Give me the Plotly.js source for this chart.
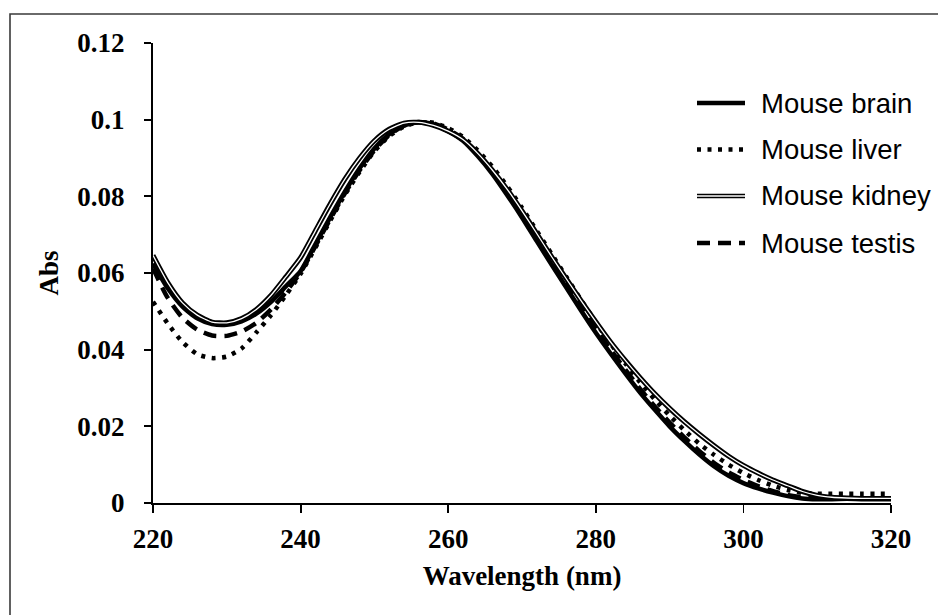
<!DOCTYPE html>
<html>
<head>
<meta charset="utf-8">
<script src="https://cdn.plot.ly/plotly-3.0.1.min.js"></script>
<style>
  html, body { margin: 0; padding: 0; background: #ffffff; }
  #chart { width: 938px; height: 615px; }
</style>
</head>
<body>
<div id="chart"></div>
<script>
// Wavelength (nm)
const wavelength = [220,222,224,226,228,230,232,234,236,238,240,242,244,246,248,250,252,254,256,258,260,262,264,266,268,270,272,274,276,278,280,282,284,286,288,290,292,294,296,298,300,302,304,306,308,310,312,314,316,318,320];

const mouseBrain = [0.0625,0.0560,0.0512,0.0482,0.0467,0.0465,0.0474,0.0494,0.0525,0.0565,0.0605,0.0675,0.0745,0.0812,0.0873,0.0925,0.0962,0.0985,0.0993,0.0988,0.0970,0.0945,0.0905,0.0858,0.0803,0.0745,0.0683,0.0622,0.0562,0.0502,0.0444,0.0390,0.0338,0.0288,0.0243,0.0200,0.0162,0.0127,0.0096,0.0071,0.0052,0.0038,0.0027,0.0018,0.0012,0.0010,0.0010,0.0011,0.0010,0.0010,0.0010];

const mouseLiver = [0.0525,0.0468,0.0420,0.0388,0.0378,0.0382,0.0403,0.0445,0.0490,0.0542,0.0598,0.0666,0.0736,0.0804,0.0864,0.0918,0.0957,0.0982,0.0993,0.0992,0.0978,0.0955,0.0920,0.0877,0.0826,0.0770,0.0710,0.0650,0.0590,0.0530,0.0472,0.0416,0.0364,0.0315,0.0270,0.0228,0.0190,0.0155,0.0126,0.0100,0.0078,0.0060,0.0045,0.0034,0.0027,0.0024,0.0024,0.0024,0.0024,0.0024,0.0024];

const mouseKidney = [0.0646,0.0575,0.0522,0.0490,0.0472,0.0470,0.0481,0.0505,0.0542,0.0590,0.0640,0.0710,0.0780,0.0845,0.0900,0.0945,0.0975,0.0991,0.0993,0.0985,0.0970,0.0948,0.0912,0.0868,0.0818,0.0762,0.0703,0.0643,0.0585,0.0528,0.0473,0.0420,0.0372,0.0327,0.0285,0.0247,0.0212,0.0180,0.0150,0.0122,0.0098,0.0078,0.0060,0.0045,0.0030,0.0020,0.0015,0.0013,0.0012,0.0012,0.0012];

const mouseTestis = [0.0612,0.0535,0.0483,0.0452,0.0437,0.0436,0.0447,0.0470,0.0505,0.0550,0.0602,0.0670,0.0740,0.0808,0.0868,0.0920,0.0960,0.0984,0.0994,0.0990,0.0974,0.0950,0.0912,0.0866,0.0812,0.0754,0.0693,0.0632,0.0572,0.0512,0.0455,0.0400,0.0348,0.0298,0.0252,0.0210,0.0171,0.0136,0.0105,0.0080,0.0060,0.0044,0.0031,0.0021,0.0015,0.0012,0.0012,0.0012,0.0012,0.0012,0.0012];

const seriesNames = ["Mouse brain", "Mouse liver", "Mouse kidney", "Mouse testis"];
const xTicks = [220, 240, 260, 280, 300, 320];
const yTicks = [0, 0.02, 0.04, 0.06, 0.08, 0.1, 0.12];
const yTickText = ["0", "0.02", "0.04", "0.06", "0.08", "0.1", "0.12"];

const serif = "Liberation Serif, Times New Roman, serif";
const sans = "Liberation Sans, Arial, sans-serif";

const lineStyles = {
  brain:  {color: "#000", width: 4.5},
  liver:  {color: "#000", width: 4.5, dash: "4px,6.5px"},
  kidneyOuter: {color: "#000", width: 5},
  kidneyInner: {color: "#fff", width: 1.3},
  testis: {color: "#000", width: 4.5, dash: "13px,8px"}
};

function trace(y, name, line) {
  return {x: wavelength, y: y, name: name, type: "scatter", mode: "lines",
          line: Object.assign({shape: "spline", smoothing: 0.6}, line),
          showlegend: false, hoverinfo: "skip"};
}

const data = [
  trace(mouseBrain, seriesNames[0], lineStyles.brain),
  trace(mouseTestis, seriesNames[3], lineStyles.testis),
  trace(mouseLiver, seriesNames[1], lineStyles.liver),
  trace(mouseKidney, seriesNames[2], lineStyles.kidneyOuter),
  trace(mouseKidney, seriesNames[2], lineStyles.kidneyInner)
];

// Layout geometry
const M = {l: 153, r: 47, t: 43, b: 112};
const W = 938, H = 615;
const pw = W - M.l - M.r, ph = H - M.t - M.b;
const px2x = p => (p - M.l) / pw;
const px2y = p => (H - M.b - p) / ph;

// Custom legend (drawn in paper space)
const legRows = [103, 149.5, 196, 243];
const legX0 = px2x(697), legX1 = px2x(745), legTextX = px2x(759);
const legendStyles = [
  [lineStyles.brain],
  [lineStyles.liver],
  [{color: "#000", width: 4.6}, {color: "#fff", width: 1.4}],
  [lineStyles.testis]
];

const shapes = [
  {type: "rect", xref: "paper", yref: "paper",
   x0: px2x(10), x1: px2x(948), y0: px2y(628), y1: px2y(14),
   line: {color: "#3a3a3a", width: 1.6}, fillcolor: "rgba(0,0,0,0)", layer: "below"}
];
const annotations = [];
legRows.forEach((py, i) => {
  legendStyles[i].forEach(st => {
    shapes.push({type: "line", xref: "paper", yref: "paper",
      x0: legX0, x1: legX1, y0: px2y(py), y1: px2y(py),
      line: {color: st.color, width: st.width, dash: st.dash || "solid"}});
  });
  annotations.push({xref: "paper", yref: "paper", x: legTextX, y: px2y(py),
    xanchor: "left", yanchor: "middle", showarrow: false, text: seriesNames[i],
    font: {family: sans, size: 27.5, color: "#000"}});
});

const tickFont = {family: serif, size: 27, color: "#000", weight: "bold"};
const titleFont = {family: serif, size: 27, color: "#000", weight: "bold"};

const layout = {
  width: W, height: H,
  margin: M,
  paper_bgcolor: "#fff", plot_bgcolor: "#fff",
  showlegend: false,
  xaxis: {
    range: [220, 320], tickvals: xTicks, ticktext: xTicks.map(String),
    showline: true, linecolor: "#000", linewidth: 2.2,
    ticks: "outside", ticklen: 8, tickwidth: 1.8, tickcolor: "#000",
    showgrid: false, zeroline: false, ticklabelstandoff: 2,
    tickfont: tickFont,
    title: {text: "Wavelength (nm)", font: titleFont, standoff: 14},
    automargin: false, fixedrange: true
  },
  yaxis: {
    range: [0, 0.12], tickvals: yTicks, ticktext: yTickText,
    showline: true, linecolor: "#000", linewidth: 2.2,
    ticks: "outside", ticklen: 7, tickwidth: 1.8, tickcolor: "#000",
    showgrid: false, zeroline: false, ticklabelstandoff: 14,
    tickfont: tickFont,
    title: {text: "Abs", font: titleFont, standoff: 11},
    automargin: false, fixedrange: true
  },
  shapes: shapes,
  annotations: annotations
};

Plotly.newPlot("chart", data, layout, {displayModeBar: false, staticPlot: true});
</script>
</body>
</html>
